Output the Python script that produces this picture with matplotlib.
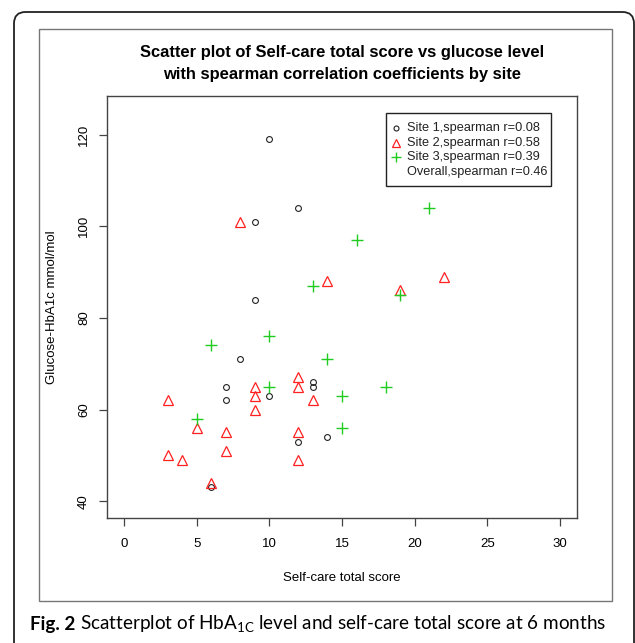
import numpy as np
import matplotlib
matplotlib.use("Agg")
import matplotlib.pyplot as plt
from matplotlib.patches import FancyBboxPatch, Rectangle

plt.rcParams['font.family'] = ['Liberation Sans', 'DejaVu Sans']

# site 1 (circles)
s1_x = [10, 12, 9, 9, 8, 7, 7, 10, 13, 13, 12, 14, 6]
s1_y = [119, 104, 101, 84, 71, 65, 62, 63, 66, 65, 53, 54, 43]
# site 2 (triangles)
s2_x = [8, 14, 22, 19, 9, 9, 9, 12, 12, 12, 12, 13, 3, 5, 7, 7, 3, 4, 6]
s2_y = [101, 88, 89, 86, 65, 63, 60, 67, 65, 55, 49, 62, 62, 56, 55, 51, 50, 49, 44]
# site 3 (plus)
s3_x = [21, 16, 13, 19, 10, 6, 14, 10, 18, 15, 5, 15]
s3_y = [104, 97, 87, 85, 76, 74, 71, 65, 65, 63, 58, 56]

legend_labels = ["Site 1,spearman r=0.08", "Site 2,spearman r=0.58",
                 "Site 3,spearman r=0.39", "Overall,spearman r=0.46"]
xticks = [0, 5, 10, 15, 20, 25, 30]
yticks = [40, 60, 80, 100, 120]

W, H = 635, 643
fig = plt.figure(figsize=(W / 100, H / 100), dpi=100)


def fx(px):
    return px / W


def fy(py):
    return 1 - py / H


# outer rounded frame and inner picture border
fig.patches.append(FancyBboxPatch((fx(14), fy(660)), fx(634) - fx(14), fy(12) - fy(660),
                                  boxstyle="round,pad=0,rounding_size=0.018",
                                  transform=fig.transFigure, fill=False,
                                  edgecolor='#222222', lw=1.3))
fig.patches.append(Rectangle((fx(39), fy(600.7)), fx(611.7) - fx(39), fy(29) - fy(600.7),
                             transform=fig.transFigure, fill=False,
                             edgecolor='#777777', lw=1.0))

styles = [dict(marker='o', ms=4.2, mfc='none', mec='#222222', mew=0.8),
          dict(marker='^', ms=7, mfc='none', mec='#ff2020', mew=0.9),
          dict(marker='+', ms=8.5, mec='#20cc20', mew=1.0)]

ax = fig.add_axes([fx(106.7), fy(517.7), fx(577.3) - fx(106.7), fy(96) - fy(517.7)])
for xs, ys, st in zip([s1_x, s2_x, s3_x], [s1_y, s2_y, s3_y], styles):
    ax.plot(xs, ys, ls='none', **st)

ax.set_xlim(-1.2, 31.2)
ax.set_ylim(36.4, 128.4)
ax.set_xticks(xticks)
ax.set_yticks(yticks)
ax.set_yticklabels([str(v) for v in yticks], rotation=90, va='center')
ax.tick_params(length=6, width=0.9, color='#444444', labelsize=9.5)
ax.tick_params(axis='x', pad=8.5)
ax.tick_params(axis='y', pad=6)
for sp in ax.spines.values():
    sp.set_color('#444444')
    sp.set_linewidth(1.0)
ax.set_xlabel("Self-care total score", fontsize=9.5, labelpad=16)
ax.set_ylabel("Glucose-HbA1c mmol/mol", fontsize=9.5, labelpad=14.5)

fig.text(fx(342), fy(53), "Scatter plot of Self-care total score vs glucose level",
         ha='center', va='center', fontsize=11.9, fontweight='bold')
fig.text(fx(342), fy(74), "with spearman correlation coefficients by site",
         ha='center', va='center', fontsize=11.9, fontweight='bold')

# legend box drawn like R's legend()
fig.patches.append(Rectangle((fx(385.7), fy(186)), fx(551) - fx(385.7), fy(112.7) - fy(186),
                             transform=fig.transFigure, fill=False,
                             edgecolor='#222222', lw=1.0))
row_y = [128.3, 142.7, 157.3, 171.7]
for i, lab in enumerate(legend_labels):
    if i < 3:
        st = dict(styles[i])
        st['ms'] = st['ms'] * 0.85
        fig.add_artist(plt.Line2D([fx(396)], [fy(row_y[i])], transform=fig.transFigure,
                                  ls='none', **st))
    fig.text(fx(407), fy(row_y[i]), lab, fontsize=9.2, va='center', ha='left',
             color='#222222')

# caption
cap_font = ['Lato', 'DejaVu Sans']
t1 = fig.text(fx(30), fy(630), "Fig. 2", fontsize=13.6, fontweight='bold',
              family=cap_font, va='baseline')
fig.canvas.draw()
bb = t1.get_window_extent()
plt.rcParams['mathtext.fontset'] = 'custom'
plt.rcParams['mathtext.rm'] = 'Lato'
fig.text(bb.x1 / W + fx(5), fy(630),
         r"Scatterplot of HbA$_{\mathregular{1C}}$ level and self-care total score at 6 months",
         fontsize=13.6, family=cap_font, va='baseline')

fig.savefig("out.png", dpi=100)
